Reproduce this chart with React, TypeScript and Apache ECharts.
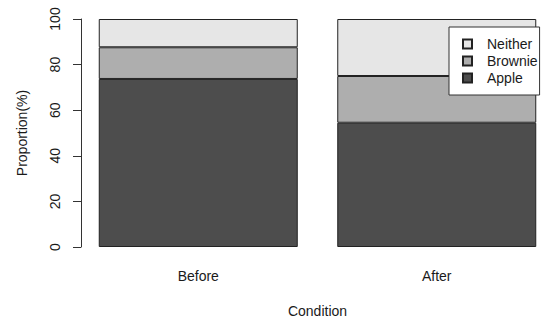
import React, { useEffect, useRef } from "react";
import * as echarts from "echarts";

const categories = ["Before", "After"];
const apple = [73.7, 54.5];
const brownie = [13.9, 20.5];
const neither = [12.4, 25.0];
const yTicks = [0, 20, 40, 60, 80, 100];

const colors = { Apple: "#4d4d4d", Brownie: "#aeaeae", Neither: "#e6e6e6" };
const font = "'Liberation Sans', Arial, Helvetica, sans-serif";

export default function App() {
  const ref = useRef<HTMLDivElement>(null);
  useEffect(() => {
    if (!ref.current) return;
    const chart = echarts.init(ref.current, null, { renderer: "svg" });
    const mk = (name: string, data: number[]) => ({
      name,
      type: "bar",
      stack: "total",
      data,
      barWidth: 199,
      itemStyle: { color: (colors as any)[name], borderColor: "#222", borderWidth: 1 },
      emphasis: { disabled: true },
    });
    chart.setOption({
      animation: false,
      backgroundColor: "#ffffff",
      textStyle: { fontFamily: font },
      grid: { left: 79, width: 477, top: 19, bottom: 78 },
      legend: {
        data: ["Neither", "Brownie", "Apple"],
        orient: "vertical",
        left: 449,
        top: 27,
        width: 88,
        backgroundColor: "#ffffff",
        borderColor: "#333",
        borderWidth: 1,
        borderRadius: 0,
        padding: [10, 2, 10, 13],
        itemWidth: 9,
        itemHeight: 9,
        itemGap: 3,
        icon: "rect",
        textStyle: { fontFamily: font, fontSize: 14, color: "#1a1a1a", lineHeight: 14, padding: [0, 0, 0, 10] },
      },
      xAxis: {
        type: "category",
        data: categories,
        axisLine: { show: false },
        axisTick: { show: false },
        axisLabel: { fontFamily: font, fontSize: 14, color: "#1a1a1a", margin: 22 },
        name: "Condition",
        nameLocation: "middle",
        nameGap: 57,
        nameTextStyle: { fontFamily: font, fontSize: 14, color: "#1a1a1a" },
      },
      yAxis: {
        type: "value",
        min: yTicks[0],
        max: yTicks[yTicks.length - 1],
        interval: 20,
        offset: -2,
        splitLine: { show: false },
        axisLine: { show: true, lineStyle: { color: "#333", width: 1 } },
        axisTick: { show: true, length: 8, lineStyle: { color: "#333" } },
        axisLabel: { fontFamily: font, fontSize: 14, color: "#1a1a1a", rotate: 90, margin: 19 },
        name: "Proportion(%)",
        nameLocation: "middle",
        nameGap: 52,
        nameTextStyle: { fontFamily: font, fontSize: 14, color: "#1a1a1a" },
      },
      series: [mk("Apple", apple), mk("Brownie", brownie), mk("Neither", neither)],
    });
    return () => chart.dispose();
  }, []);
  return (
    <div style={{ position: "absolute", left: 0, top: 0, width: 550, height: 325, overflow: "hidden" }}>
      <div ref={ref} style={{ width: 560, height: 325 }} />
    </div>
  );
}
